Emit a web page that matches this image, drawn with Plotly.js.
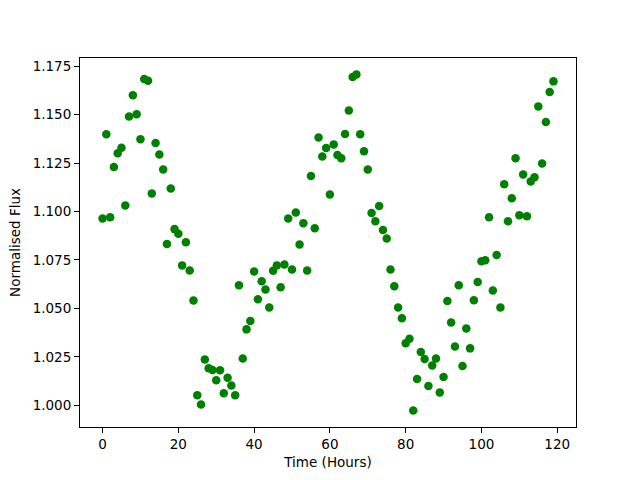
<!DOCTYPE html>
<html>
<head>
<meta charset="utf-8">
<script src="https://cdn.plot.ly/plotly-3.0.1.min.js"></script>
<style>html,body{margin:0;padding:0;background:#fff;}</style>
</head>
<body>
<div id="chart" style="width:640px;height:480px;"></div>
<script>
const hours = Array.from({length: 120}, (_, i) => i);
const flux = [
  1.0964, 1.1398, 1.0970, 1.1229, 1.1300, 1.1329, 1.1031, 1.1490, 1.1599, 1.1501,
  1.1373, 1.1683, 1.1674, 1.1093, 1.1353, 1.1294, 1.1217, 1.0832, 1.1119, 1.0909,
  1.0885, 1.0722, 1.0841, 1.0696, 1.0541, 1.0052, 1.0005, 1.0237, 1.0191, 1.0182,
  1.0130, 1.0181, 1.0062, 1.0142, 1.0103, 1.0052, 1.0619, 1.0242, 1.0392, 1.0435,
  1.0691, 1.0547, 1.0640, 1.0598, 1.0505, 1.0694, 1.0722, 1.0609, 1.0727, 1.0964,
  1.0701, 1.0995, 1.0830, 1.0939, 1.0696, 1.1183, 1.0913, 1.1382, 1.1284, 1.1327,
  1.1088, 1.1346, 1.1291, 1.1274, 1.1399, 1.1521, 1.1693, 1.1707, 1.1398, 1.1310,
  1.1217, 1.0992, 1.0949, 1.1028, 1.0904, 1.0861, 1.0701, 1.0614, 1.0505, 1.0449,
  1.0320, 1.0344, 0.9974, 1.0136, 1.0275, 1.0239, 1.0100, 1.0206, 1.0242, 1.0067,
  1.0146, 1.0538, 1.0428, 1.0304, 1.0620, 1.0203, 1.0397, 1.0294, 1.0542, 1.0636,
  1.0743, 1.0748, 1.0970, 1.0593, 1.0775, 1.0505, 1.1140, 1.0949, 1.1068, 1.1275,
  1.0981, 1.1191, 1.0975, 1.1155, 1.1176, 1.1542, 1.1248, 1.1461, 1.1616, 1.1671
];
const yTicks = [1.000, 1.025, 1.050, 1.075, 1.100, 1.125, 1.150, 1.175];
const xTicks = [0, 20, 40, 60, 80, 100, 120];

const trace = {
  x: hours, y: flux, type: 'scatter', mode: 'markers',
  marker: {color: '#008000', size: 8.5}
};
const font = {family: 'DejaVu Sans', size: 13.5, color: '#000'};
const layout = {
  width: 640, height: 480,
  margin: {l: 80, r: 64, t: 58, b: 53},
  paper_bgcolor: '#fff', plot_bgcolor: '#fff',
  showlegend: false,
  font: font,
  xaxis: {
    range: [-5.95, 124.95], tickvals: xTicks, ticktext: xTicks.map(String),
    showgrid: false, zeroline: false, showline: true, mirror: true,
    linecolor: '#000', linewidth: 1, ticks: 'outside', ticklen: 5, tickcolor: '#000',
    tickfont: font,
    title: {text: 'Time (Hours)', font: font, standoff: 6}
  },
  yaxis: {
    range: [0.98885, 1.17915], tickvals: yTicks, ticktext: yTicks.map(v => v.toFixed(3)),
    showgrid: false, zeroline: false, showline: true, mirror: true,
    linecolor: '#000', linewidth: 1, ticks: 'outside', ticklen: 5, tickcolor: '#000',
    tickfont: font,
    title: {text: 'Normalised Flux', font: font, standoff: 8}
  }
};
Plotly.newPlot('chart', [trace], layout, {displayModeBar: false, staticPlot: true});
</script>
</body>
</html>
